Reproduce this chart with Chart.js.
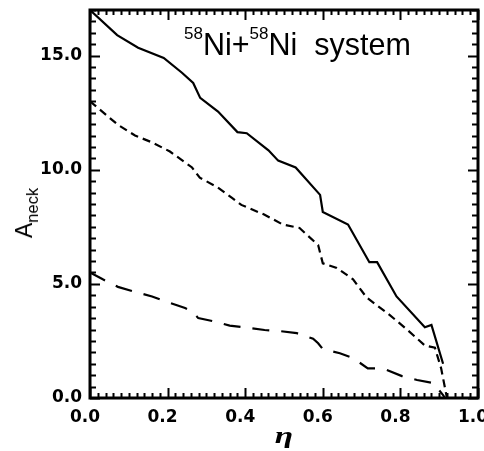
<!DOCTYPE html>
<html>
<head>
<meta charset="utf-8">
<script src="https://cdn.jsdelivr.net/npm/chart.js@4.4.0/dist/chart.umd.min.js"></script>
<style>
  html, body { margin: 0; padding: 0; background: #fff; }
  #wrap { position: relative; width: 484px; height: 451px; overflow: hidden; background: #fff; }
  #c { position: absolute; left: 0; top: 0; }
  .txt { position: absolute; color: #000; white-space: pre; }
  #title { left: 184px; top: 29px; font: 30.5px "Liberation Sans", Arial, sans-serif; line-height: 30px; }
  #title .sup { font-size: 17px; position: relative; top: -16px; }
  #xtitle { left: 264px; top: 424px; width: 40px; text-align: center; font: italic bold 23px "Liberation Serif", serif; line-height: 23px;
            transform: scaleX(1.45); }
  #ytitle { left: 25px; top: 213px; font: 23px "Liberation Sans", Arial, sans-serif; line-height: 22px;
            transform: translate(-50%, -50%) rotate(-90deg); }
  #ytitle .sub { font-size: 16.5px; position: relative; top: 6px; }
</style>
</head>
<body>
<div id="wrap">
  <canvas id="c" width="484" height="451"></canvas>
  <div class="txt" id="title"><span class="sup">58</span>Ni+<span class="sup">58</span>Ni  system</div>
  <div class="txt" id="xtitle">η</div>
  <div class="txt" id="ytitle">A<span class="sub">neck</span></div>
</div>
<script>
// ---- data ----
const xTickValues = [0.0, 0.2, 0.4, 0.6, 0.8, 1.0];
const yTickValues = [0.0, 5.0, 10.0, 15.0];

const etaSolid   = [0.0, 0.07, 0.124, 0.19, 0.237, 0.266, 0.284, 0.33, 0.38, 0.404, 0.46, 0.485, 0.53, 0.593, 0.60, 0.665, 0.72, 0.74, 0.79, 0.863, 0.88, 0.91];
const aneckSolid = [17.0, 15.9, 15.35, 14.9, 14.25, 13.8, 13.15, 12.55, 11.65, 11.6, 10.85, 10.4, 10.1, 8.9, 8.15, 7.6, 5.95, 5.95, 4.45, 3.1, 3.2, 1.5];

const etaShort   = [0.0, 0.072, 0.116, 0.16, 0.206, 0.263, 0.283, 0.327, 0.366, 0.39, 0.45, 0.497, 0.54, 0.588, 0.60, 0.636, 0.678, 0.713, 0.768, 0.817, 0.863, 0.889, 0.905, 0.92];
const aneckShort = [13.0, 11.97, 11.5, 11.2, 10.8, 10.1, 9.65, 9.25, 8.77, 8.46, 8.03, 7.6, 7.45, 6.7, 5.9, 5.7, 5.2, 4.4, 3.7, 3.0, 2.3, 2.2, 1.3, 0.0];

const etaLong    = [0.0, 0.033, 0.072, 0.116, 0.16, 0.2, 0.245, 0.263, 0.279, 0.322, 0.36, 0.406, 0.45, 0.49, 0.533, 0.575, 0.588, 0.60, 0.644, 0.678, 0.716, 0.74, 0.765, 0.804, 0.843, 0.884, 0.91, 0.915];
const aneckLong  = [5.5, 5.2, 4.87, 4.65, 4.45, 4.2, 3.94, 3.8, 3.5, 3.35, 3.17, 3.08, 2.98, 2.93, 2.84, 2.6, 2.4, 2.14, 1.96, 1.75, 1.3, 1.3, 1.23, 0.96, 0.79, 0.66, 0.13, 0.0];

// ---- helpers ----
const pts = (xs, ys) => xs.map((x, i) => ({ x: x, y: ys[i] }));

const frameTicks = {
  id: 'frameTicks',
  afterDatasetsDraw(chart) {
    const { ctx, chartArea: { left, right, top, bottom }, scales: { x, y } } = chart;
    ctx.save();
    ctx.strokeStyle = '#000';
    ctx.lineWidth = 2;
    ctx.beginPath();
    const xMinor = 0.02, yMinor = 0.5;
    for (let i = 0; i <= Math.round((x.max - x.min) / xMinor); i++) {
      const v = x.min + i * xMinor;
      const px = Math.round(x.getPixelForValue(v)) + 0.5;
      const len = (i % 10 === 0) ? 10 : 5;
      ctx.moveTo(px, bottom); ctx.lineTo(px, bottom - len);
      ctx.moveTo(px, top); ctx.lineTo(px, top + len);
    }
    for (let i = 0; i <= Math.round((y.max - y.min) / yMinor); i++) {
      const v = y.min + i * yMinor;
      const py = Math.round(y.getPixelForValue(v)) + 0.5;
      const len = (i % 10 === 0) ? 10 : 6;
      ctx.moveTo(left, py); ctx.lineTo(left + len, py);
      ctx.moveTo(right, py); ctx.lineTo(right - len, py);
    }
    ctx.stroke();
    ctx.lineWidth = 3;
    ctx.strokeRect(left, top, right - left, bottom - top);
    ctx.restore();
  }
};

const tickFont = { family: '"DejaVu Sans", sans-serif', size: 17, weight: 'bold' };

new Chart(document.getElementById('c'), {
  type: 'scatter',
  data: {
    datasets: [
      { data: pts(etaSolid, aneckSolid), showLine: true, borderColor: '#000', borderWidth: 2.2, pointRadius: 0, tension: 0 },
      { data: pts(etaShort, aneckShort), showLine: true, borderColor: '#000', borderWidth: 2.2, borderDash: [8, 5], pointRadius: 0, tension: 0 },
      { data: pts(etaLong, aneckLong),   showLine: true, borderColor: '#000', borderWidth: 2.2, borderDash: [17, 12], pointRadius: 0, tension: 0 }
    ]
  },
  options: {
    responsive: false,
    animation: false,
    layout: { padding: { top: 10, right: 6, left: 0, bottom: 0 } },
    plugins: { legend: { display: false }, tooltip: { enabled: false }, title: { display: false } },
    scales: {
      x: {
        type: 'linear', min: 0, max: 1,
        grid: { display: false, drawTicks: false },
        border: { display: false },
        afterBuildTicks: (s) => { s.ticks = xTickValues.map(v => ({ value: v })); },
        afterFit: (s) => { s.height = 53; s.paddingLeft = 0; s.paddingRight = 0; },
        ticks: { autoSkip: false, maxRotation: 0, padding: 9, labelOffset: -5, color: '#000', font: tickFont,
                 callback: (v) => Number(v).toFixed(1) }
      },
      y: {
        type: 'linear', min: 0, max: 17,
        grid: { display: false, drawTicks: false },
        border: { display: false },
        afterBuildTicks: (s) => { s.ticks = yTickValues.map(v => ({ value: v })); },
        afterFit: (s) => { s.width = 90; s.paddingTop = 0; s.paddingBottom = 0; },
        ticks: { autoSkip: false, padding: 8, color: '#000', font: tickFont,
                 callback: (v) => Number(v).toFixed(1) }
      }
    }
  },
  plugins: [frameTicks]
});
</script>
</body>
</html>
